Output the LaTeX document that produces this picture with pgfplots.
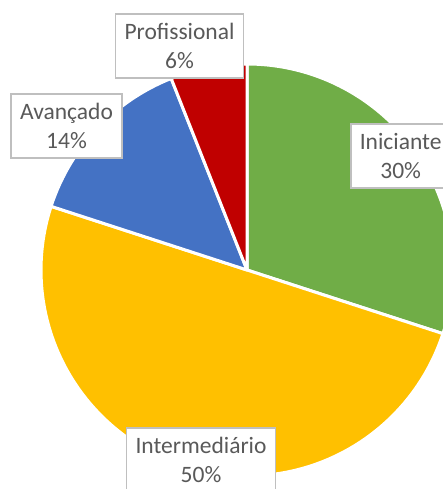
\documentclass[border=0pt]{standalone}
\usepackage{pgfplots}
\usepackage{pgfplotstable}
\pgfplotsset{compat=1.18}
\usepackage{fontspec}
\setmainfont{Carlito}

\definecolor{cgreen}{HTML}{70AD47}
\definecolor{cyellow}{HTML}{FFC000}
\definecolor{cblue}{HTML}{4472C4}
\definecolor{cred}{HTML}{C00000}
\definecolor{labeltext}{HTML}{595959}
\definecolor{labelbox}{HTML}{BFBFBF}

% shares of the pie, clockwise from 12 o'clock
\pgfplotstableread{
label value color
Iniciante 30 cgreen
Intermediário 50 cyellow
Avançado 14 cblue
Profissional 6 cred
}\piedata

\tikzset{
  datalabel/.style={draw=labelbox, line width=1.6pt, fill=white, text=labeltext,
    align=center, inner xsep=9pt, minimum height=64pt,
    font=\fontsize{23.5}{29}\selectfont},
}

\begin{document}
\begin{tikzpicture}
\useasboundingbox (0,0) rectangle (443pt,489pt);
\clip (0,0) rectangle (443pt,489pt);
\begin{axis}[
    hide axis,
    x=1pt, y=1pt,
    xmin=0, xmax=443,
    ymin=0, ymax=489,
    at={(0,0)}, anchor=origin,
    clip=false,
]
\def\angstart{90}
\pgfplotsforeachungrouped \i in {0,...,3}{
  \pgfplotstablegetelem{\i}{value}\of\piedata \let\v\pgfplotsretval
  \pgfplotstablegetelem{\i}{color}\of\piedata \let\c\pgfplotsretval
  \pgfmathsetmacro\angend{\angstart-3.6*\v}
  \edef\cmd{\noexpand\addplot[fill=\c, draw=white, line width=3pt, line join=round,
      domain=\angstart:\angend, samples=90]
      ({247+206*cos(x)},{219+206*sin(x)}) -- (axis cs:247,219) -- cycle;}
  \cmd
  \global\let\angstart\angend
}

\node[datalabel] at (axis cs:179.5,443) {Profissional\\6\%};
\node[datalabel] at (axis cs:66.5,363) {Avançado\\14\%};
\node[datalabel, anchor=west] at (axis cs:350,333) {Iniciante\\30\%};
\node[datalabel] at (axis cs:201,29) {Intermediário\\50\%};
\end{axis}
\end{tikzpicture}
\end{document}
